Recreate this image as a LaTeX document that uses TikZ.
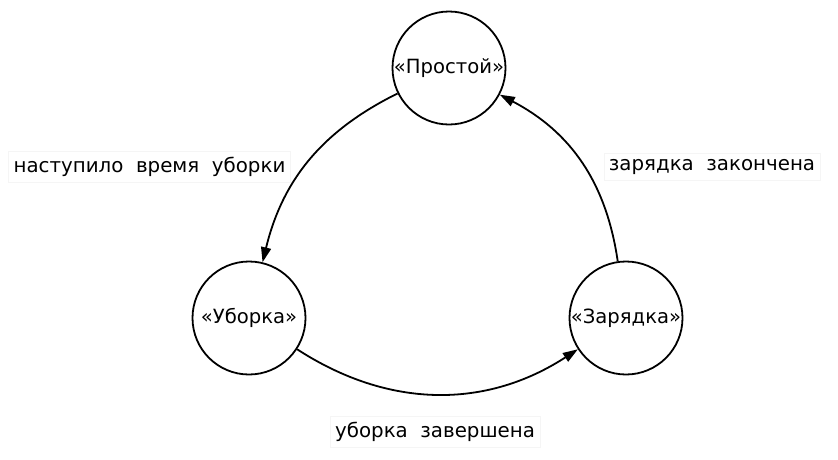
\documentclass[tikz,border=0pt]{standalone}
\usepackage{fontspec}
\setmainfont{DejaVu Sans}
\usetikzlibrary{arrows.meta}
\begin{document}
\begin{tikzpicture}[x=1pt,y=1pt,
  state/.style={circle,draw=black,line width=1.8pt,minimum size=113pt,inner sep=0pt,font=\fontsize{19.6}{22}\selectfont},
  lbl/.style={fill=white,draw=black!4,line width=0.6pt,inner xsep=5pt,inner ysep=6pt,font=\fontsize{19.8}{22}\selectfont},
  conn/.style={line width=1.8pt,-{Triangle[length=15pt,width=10pt]}}]
\useasboundingbox (0,0) rectangle (838,-459);
\node[state] (p) at (449,-68) {«Простой»};
\node[state] (u) at (249,-318) {«Уборка»};
\node[state] (z) at (626,-318) {«Зарядка»};
\draw[conn] (p) to[bend right=25] (u);
\draw[conn] (u) to[bend right=33] (z);
\draw[conn] (z) to[bend right=27] (p);
\node[lbl] (l1) at (149.5,-167) {наступило\ \ время\ \ уборки};
\node[lbl] (l2) at (712,-167) {зарядка\ \ закончена};
\node[lbl] (l3) at (435,-432) {уборка\ \ завершена};
\end{tikzpicture}
\end{document}
